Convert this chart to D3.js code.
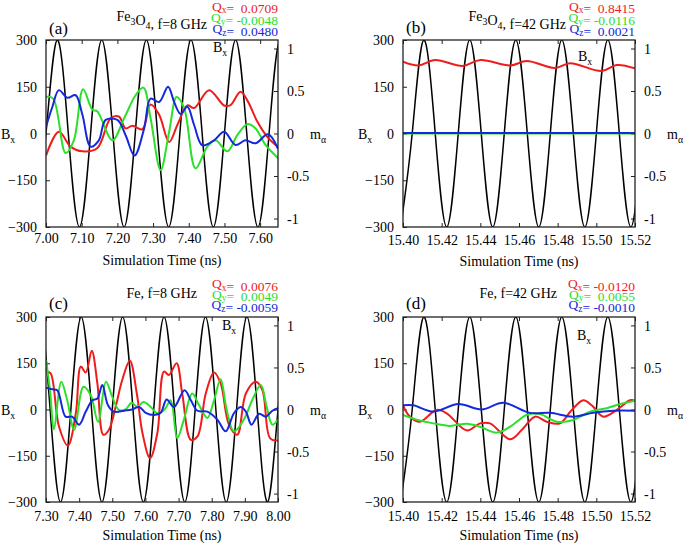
<!DOCTYPE html>
<html><head><meta charset="utf-8">
<script src="https://cdn.jsdelivr.net/npm/d3@7"></script>
<style>
body{margin:0;background:#fff;}
svg text{font-family:"Liberation Serif","Times New Roman",serif;white-space:pre;}
</style></head>
<body><svg id="chart" width="685" height="546"></svg>
<script>
// ---------------- DATA ----------------
// Driving field B_x (left axis, quarter-period knots)
const bxTimesA = [6.96875,7.00,7.03125,7.0625,7.09375,7.125,7.15625,7.1875,7.21875,7.25,7.28125,7.3125,7.34375,7.375,7.40625,7.4375,7.46875,7.5,7.53125,7.5625,7.59375,7.625,7.65625,7.6875];
const bxValsA  = [-300,0,300,0,-300,0,300,0,-300,0,300,0,-300,0,300,0,-300,0,300,0,-300,0,300,0];
const bxTimesC = [7.25,7.28125,7.3125,7.34375,7.375,7.40625,7.4375,7.46875,7.5,7.53125,7.5625,7.59375,7.625,7.65625,7.6875,7.71875,7.75,7.78125,7.8125,7.84375,7.875,7.90625,7.9375,7.96875,8.0,8.03125];
const bxValsC  = [0,300,0,-300,0,300,0,-300,0,300,0,-300,0,300,0,-300,0,300,0,-300,0,300,0,-300,0,300];
const bxTimesHF = [15.39881,15.40476,15.41071,15.41667,15.42262,15.42857,15.43452,15.44048,15.44643,15.45238,15.45833,15.46429,15.47024,15.47619,15.48214,15.48810,15.49405,15.50000,15.50595,15.51190,15.51786,15.52381];
const bxValsHF  = [-300,0,300,0,-300,0,300,0,-300,0,300,0,-300,0,300,0,-300,0,300,0,-300,0];

// Panel (a) Fe3O4, 8 GHz : m components (right axis)
const tA_x = [7.000,7.036,7.069,7.102,7.144,7.181,7.204,7.223,7.242,7.270,7.293,7.317,7.345,7.368,7.396,7.415,7.457,7.499,7.517,7.545,7.564,7.592,7.620,7.650];
const mA_x = [-0.26,0.02,-0.155,-0.21,-0.17,0.18,0.20,0.06,0.09,0.05,0.34,0.22,-0.10,0.10,0.33,0.30,0.51,0.33,0.335,0.49,0.39,0.14,-0.04,-0.16];
const tA_y = [7.000,7.020,7.055,7.078,7.104,7.130,7.144,7.186,7.219,7.251,7.273,7.293,7.321,7.345,7.366,7.387,7.419,7.452,7.475,7.508,7.536,7.564,7.587,7.615,7.650];
const mA_y = [0.43,0.41,-0.23,-0.08,0.52,0.28,0.26,-0.08,0.18,0.45,0.54,0.18,-0.43,0.02,0.43,0.30,-0.41,-0.155,-0.08,-0.21,-0.02,0.11,0.06,-0.135,-0.29];
const tA_z = [7.000,7.018,7.036,7.060,7.083,7.102,7.125,7.148,7.167,7.200,7.223,7.248,7.275,7.293,7.317,7.342,7.359,7.377,7.396,7.415,7.438,7.471,7.499,7.531,7.559,7.587,7.622,7.650];
const mA_z = [0.08,0.315,0.51,0.42,0.45,0.22,-0.155,-0.08,0.16,0.16,-0.02,-0.26,0.06,0.41,0.37,0.55,0.37,0.23,0.315,0.10,-0.14,-0.08,0.02,-0.135,-0.08,-0.115,-0.01,-0.18];

// Panel (b) Fe3O4, 42 GHz
const tB_x = [15.400,15.408,15.4166,15.431,15.440,15.4555,15.464,15.4786,15.4864,15.5028,15.5105,15.520];
const mB_x = [0.845,0.80,0.865,0.795,0.865,0.80,0.853,0.77,0.826,0.735,0.806,0.767];
const tB_y = [15.40,15.46,15.52];
const mB_y = [0.0,0.0,0.0];
const tB_z = [15.40,15.46,15.52];
const mB_z = [0.005,0.005,0.005];

// Panel (c) Fe, 8 GHz
const tC_x = [7.302,7.314,7.339,7.366,7.390,7.405,7.420,7.438,7.455,7.473,7.490,7.510,7.530,7.553,7.574,7.591,7.614,7.636,7.656,7.671,7.694,7.711,7.737,7.757,7.782,7.807,7.827,7.852,7.877,7.903,7.933,7.953,7.976,8.000];
const mC_x = [0.45,0.43,-0.20,-0.43,-0.045,0.51,0.44,0.70,0.31,-0.30,-0.24,0.03,0.35,0.58,0.19,-0.28,-0.58,-0.28,0.45,0.41,0.55,0.19,-0.36,-0.32,0.19,0.44,0.31,-0.18,-0.30,0.19,0.33,0.23,-0.34,-0.37];
const tC_y = [7.300,7.312,7.324,7.346,7.364,7.385,7.413,7.435,7.457,7.481,7.500,7.520,7.540,7.558,7.576,7.594,7.616,7.636,7.658,7.676,7.696,7.716,7.741,7.762,7.787,7.807,7.827,7.845,7.867,7.897,7.922,7.948,7.966,7.983,8.000];
const mC_y = [0.59,0.23,-0.235,0.33,0.11,-0.24,0.27,0.17,-0.145,0.33,0.15,-0.005,0.0,0.08,0.03,0.09,0.03,-0.045,0.0,0.11,-0.34,-0.12,0.19,0.05,-0.10,0.11,0.36,0.0,-0.26,-0.12,0.11,0.29,0.03,-0.18,-0.12];
const tC_z = [7.300,7.319,7.334,7.359,7.379,7.400,7.420,7.440,7.455,7.470,7.487,7.505,7.535,7.560,7.581,7.601,7.626,7.646,7.664,7.686,7.718,7.737,7.757,7.787,7.817,7.842,7.867,7.887,7.903,7.920,7.943,7.963,7.983,8.000];
const mC_z = [0.26,0.24,0.23,-0.085,-0.085,-0.18,-0.025,0.11,0.13,0.29,0.05,-0.025,-0.015,0.0,0.03,-0.04,-0.065,-0.04,0.12,0.03,0.23,0.11,-0.015,-0.025,-0.12,-0.26,-0.045,0.03,-0.025,-0.18,-0.05,-0.085,-0.015,0.015];

// Panel (d) Fe, 42 GHz
const tD_x = [15.400,15.4036,15.4088,15.4174,15.4226,15.4330,15.4398,15.4450,15.4554,15.4614,15.4683,15.4743,15.4812,15.4873,15.4933,15.4976,15.5036,15.5106,15.5174,15.5200];
const mD_x = [0.05,-0.085,-0.145,-0.005,-0.045,-0.25,-0.165,-0.165,-0.355,-0.245,-0.085,-0.145,-0.165,-0.005,0.11,0.05,-0.085,-0.005,0.11,0.105];
const tD_y = [15.400,15.407,15.4157,15.4243,15.4330,15.4398,15.4485,15.4554,15.4640,15.4709,15.4795,15.4881,15.4967,15.5054,15.5123,15.5200];
const mD_y = [-0.065,-0.12,-0.165,-0.195,-0.17,-0.205,-0.275,-0.205,-0.065,-0.055,-0.145,-0.125,-0.025,0.015,0.065,0.105];
const tD_z = [15.400,15.4053,15.4157,15.4286,15.4407,15.4519,15.4657,15.4760,15.4881,15.4984,15.5088,15.5200];
const mD_z = [0.05,0.05,-0.025,0.065,0.0,0.08,-0.04,-0.04,-0.085,-0.04,-0.015,-0.015];

// Tick labels / annotations
const bTicks = [300,150,0,-150,-300];
const mTicks = [1,0.5,0,-0.5,-1];
const xTicksAB = [[7.00,7.10,7.20,7.30,7.40,7.50,7.60],[15.40,15.42,15.44,15.46,15.48,15.50,15.52]];
const xTicksC = [7.30,7.40,7.50,7.60,7.70,7.80,7.90,8.00];
const qLabels = {
  a: ["0.0709","-0.0048","0.0480"],
  b: ["0.8415","-0.0116","0.0021"],
  c: ["0.0076","0.0049","-0.0059"],
  d: ["-0.0120","0.0055","-0.0010"]
};

// ---------------- DRAW ----------------
const svg = d3.select("#chart");
const RED="#ee1c1c", GREEN="#2be02b", BLUE="#1428dc";
const panels = [
  {id:"a", L:46, R:278, T:40, B:227, dom:[7.00,7.65], xt:xTicksAB[0], bt:[bxTimesA,bxValsA],
   series:[[tA_x,mA_x,RED],[tA_y,mA_y,GREEN],[tA_z,mA_z,BLUE]],
   mat:"Fe3O4", freq:"8", titleX:207, titleY:21, qY:[10.5,21.8,33.2], letterY:34, bxIn:[213,52], tickY:243, labY:265},
  {id:"b", L:403, R:635, T:40, B:227, dom:[15.40,15.52], xt:xTicksAB[1], bt:[bxTimesHF,bxValsHF],
   series:[[tB_x,mB_x,RED],[tB_y,mB_y,GREEN],[tB_z,mB_z,BLUE]],
   mat:"Fe3O4", freq:"42", titleX:566, titleY:21, qY:[10.5,21.8,33.2], letterY:33, bxIn:[578,61], tickY:245, labY:266},
  {id:"c", L:46, R:278, T:317, B:502, dom:[7.30,8.00], xt:xTicksC, bt:[bxTimesC,bxValsC],
   series:[[tC_x,mC_x,RED],[tC_y,mC_y,GREEN],[tC_z,mC_z,BLUE]],
   mat:"Fe", freq:"8", titleX:197, titleY:298, qY:[288,298.5,309], letterY:309, bxIn:[222,330], tickY:521, labY:540},
  {id:"d", L:403, R:635, T:317, B:502, dom:[15.40,15.52], xt:xTicksAB[1], bt:[bxTimesHF,bxValsHF],
   series:[[tD_x,mD_x,RED],[tD_y,mD_y,GREEN],[tD_z,mD_z,BLUE]],
   mat:"Fe", freq:"42", titleX:557, titleY:298, qY:[288,298.5,309], letterY:309, bxIn:[577,340], tickY:521, labY:540}
];

function subText(g, x, y, parts, size, anchor, color, subShift){
  const sh = subShift==null ? 0.3 : subShift;
  const t = g.append("text").attr("x",x).attr("y",y).attr("font-size",size)
    .attr("text-anchor",anchor||"start").attr("fill",color||"#000");
  parts.forEach(p=>{
    if(p.sub){
      t.append("tspan").attr("font-size",size*0.7).attr("dy",size*sh).text(p.sub);
      t.append("tspan").attr("dy",-size*sh).text("");
    } else t.append("tspan").text(p.t);
  });
  return t;
}

panels.forEach((p,i)=>{
  const g = svg.append("g");
  const x = d3.scaleLinear().domain(p.dom).range([p.L,p.R]);
  const yB = d3.scaleLinear().domain([-300,300]).range([p.B,p.T]);
  const yM = d3.scaleLinear().domain([-1.1,1.1]).range([p.B,p.T]);
  const clipId = "clip"+p.id;
  svg.append("clipPath").attr("id",clipId).append("rect")
    .attr("x",p.L).attr("y",p.T).attr("width",p.R-p.L).attr("height",p.B-p.T);

  // axes (ticks inward, mirrored)
  const fmtX = d3.format(".2f");
  const axB = g.append("g").attr("transform",`translate(0,${p.B})`)
    .call(d3.axisBottom(x).tickValues(p.xt).tickSize(-4).tickPadding(6).tickFormat(fmtX));
  const axT = g.append("g").attr("transform",`translate(0,${p.T})`)
    .call(d3.axisTop(x).tickValues(p.xt).tickSize(-4).tickFormat(""));
  const axL = g.append("g").attr("transform",`translate(${p.L},0)`)
    .call(d3.axisLeft(yB).tickValues(bTicks).tickSize(-4).tickPadding(9));
  const axR = g.append("g").attr("transform",`translate(${p.R},0)`)
    .call(d3.axisRight(yM).tickValues(mTicks).tickSize(-4).tickPadding(9).tickFormat(d=>String(d)));
  [axB,axT,axL,axR].forEach(a=>{
    a.select(".domain").remove();
    a.selectAll("line").attr("stroke","#222").attr("stroke-width",1);
    a.selectAll("text").attr("font-family","Liberation Serif").attr("font-size",14).attr("fill","#000");
  });
  axB.selectAll("text").attr("dy",null).attr("y",p.tickY-p.B);
  axL.selectAll("text").attr("dy","0.33em");
  axR.selectAll("text").attr("dy","0.33em");

  // curves
  const plot = g.append("g").attr("clip-path",`url(#${clipId})`);
  const bxData = p.bt[0].map((t,k)=>[t,p.bt[1][k]]);
  plot.append("path").datum(bxData)
    .attr("d", d3.line().x(d=>x(d[0])).y(d=>yB(d[1])).curve(d3.curveNatural))
    .attr("fill","none").attr("stroke","#000").attr("stroke-width",1.5);
  p.series.forEach(s=>{
    const data = s[0].map((t,k)=>[t,s[1][k]]);
    plot.append("path").datum(data)
      .attr("d", d3.line().x(d=>x(d[0])).y(d=>yM(d[1])).curve(d3.curveCatmullRom.alpha(0.5)))
      .attr("fill","none").attr("stroke",s[2]).attr("stroke-width",2);
  });

  // frame
  g.append("rect").attr("x",p.L).attr("y",p.T).attr("width",p.R-p.L).attr("height",p.B-p.T)
    .attr("fill","none").attr("stroke","#222").attr("stroke-width",1.3);

  // axis titles
  g.append("text").attr("x",(p.L+p.R)/2).attr("y",p.labY).attr("text-anchor","middle")
    .attr("font-size",14).text("Simulation Time (ns)");
  const zy = yB(0);
  subText(g, p.L-45, zy+5, [{t:"B"},{sub:"x"}], 14, "start");
  subText(g, p.R+32, zy+5, [{t:"m"},{sub:"α"}], 14, "start");
  subText(g, p.bxIn[0], p.bxIn[1], [{t:"B"},{sub:"x"}], 14, "start");

  // panel letter
  g.append("text").attr("x",p.L+3).attr("y",p.letterY).attr("font-size",17).text(`(${p.id})`);

  // title
  const titleParts = p.mat==="Fe3O4" ? [{t:"Fe"},{sub:"3"},{t:"O"},{sub:"4"},{t:`, f=${p.freq} GHz`}]
                                      : [{t:`Fe, f=${p.freq} GHz`}];
  subText(g, p.titleX, p.titleY, titleParts, 14, "end");

  // Q labels
  const q = qLabels[p.id];
  const comps = ["x","y","z"], cols=[RED,GREEN,BLUE];
  q.forEach((v,k)=>{
    const val = v.startsWith("-") ? v : " "+v;
    subText(g, p.R, p.qY[k], [{t:"Q"},{sub:comps[k]},{t:"= "+val}], 13.5, "end", cols[k], 0.2);
  });
});
</script></body></html>
